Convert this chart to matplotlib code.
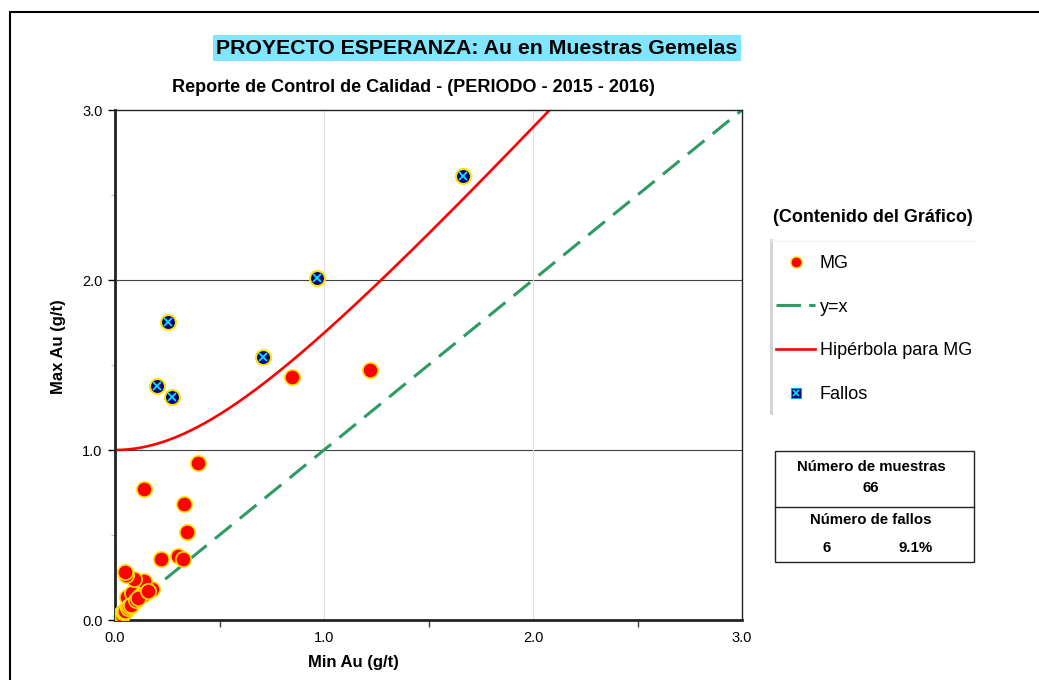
import numpy as np
import matplotlib.pyplot as plt
from matplotlib.lines import Line2D
from matplotlib.patches import Rectangle

plt.rcParams['font.family'] = ['Liberation Sans', 'DejaVu Sans']

# twin samples: min and max Au (g/t)
min_au = [0.005, 0.005, 0.010, 0.008, 0.010, 0.012, 0.015, 0.020, 0.025, 0.029,
          0.030, 0.035, 0.040, 0.045, 0.051, 0.055, 0.060, 0.070, 0.088, 0.056,
          0.083, 0.124, 0.140, 0.175, 0.140, 0.092, 0.051, 0.048, 0.220, 0.300,
          0.327, 0.346, 0.332, 0.140, 0.399, 0.848, 1.220,
          1.665, 0.967, 0.252, 0.202, 0.271, 0.710,
          0.002, 0.003, 0.004, 0.006, 0.007, 0.009, 0.011, 0.013, 0.016, 0.018,
          0.020, 0.022, 0.027, 0.033, 0.038, 0.042, 0.048, 0.060, 0.065, 0.075,
          0.100, 0.110, 0.160]
max_au = [0.005, 0.010, 0.005, 0.004, 0.010, 0.015, 0.020, 0.025, 0.030, 0.029,
          0.035, 0.040, 0.039, 0.050, 0.059, 0.065, 0.075, 0.085, 0.102, 0.134,
          0.161, 0.147, 0.151, 0.180, 0.231, 0.239, 0.265, 0.284, 0.359, 0.378,
          0.357, 0.516, 0.681, 0.769, 0.922, 1.429, 1.470,
          2.610, 2.010, 1.751, 1.378, 1.310, 1.549,
          0.003, 0.002, 0.006, 0.004, 0.008, 0.007, 0.009, 0.012, 0.014, 0.020,
          0.018, 0.024, 0.032, 0.028, 0.045, 0.048, 0.055, 0.070, 0.080, 0.090,
          0.120, 0.130, 0.170]

hyp_b = 1.0     # hyperbola intercept
hyp_m2 = 1.85   # hyperbola slope^2

x = np.array(min_au)
y = np.array(max_au)
fail = y > np.sqrt(hyp_b**2 + hyp_m2 * x**2)
n_total = len(x)
n_fail = int(fail.sum())

fig = plt.figure(figsize=(10.39, 6.8), dpi=100)
ax = fig.add_axes([115/1039, 1-620/680, 627/1039, 510/680])

# grid
for g in [1.0, 2.0]:
    ax.axhline(g, color='#404040', lw=0.8, zorder=0)
    ax.axvline(g, color='#e0e0e0', lw=0.8, zorder=0)

# y=x and hyperbola
xl = np.array([0.24, 3.0])
ax.plot(xl, xl, color='#2e9a64', lw=2.2, dashes=(7, 3.5), zorder=2)
xh = np.linspace(0, 3, 400)
yh = np.sqrt(hyp_b**2 + hyp_m2 * xh**2)
ax.plot(xh, yh, color='#ff0000', lw=1.9, zorder=2)

ax.plot(x, y, 'o', ms=11, mfc='#ff0000', mec='#ffe000', mew=1.2, zorder=3, ls='none')
ax.plot(x[fail], y[fail], 'o', ms=10.5, mfc='#000070', mec='#ffe000', mew=1.2, zorder=4, ls='none')
ax.plot(x[fail], y[fail], 'x', ms=6, mec='#00e5ff', mew=1.3, zorder=5, ls='none')

ax.set_xlim(0, 3)
ax.set_ylim(0, 3)
ax.set_xticks([0, 1, 2, 3])
ax.set_xticks([0.5, 1.5, 2.5], minor=True)
ax.set_yticks([0, 1, 2, 3])
ax.set_yticks([0.5, 1.5, 2.5], minor=True)
ax.set_xticklabels(['0.0', '1.0', '2.0', '3.0'])
ax.set_yticklabels(['0.0', '1.0', '2.0', '3.0'])
ax.tick_params(axis='x', which='major', length=0, labelsize=10.5, pad=8)
ax.tick_params(axis='x', which='minor', length=5, width=1, color='#404040')
ax.tick_params(axis='y', which='major', length=5, width=1, labelsize=10.5, pad=4)
ax.tick_params(axis='y', which='minor', length=3, width=0.8, color='#c0c0c0')
for s in ['left', 'bottom']:
    ax.spines[s].set_linewidth(2)
    ax.spines[s].set_color('#222222')
for s in ['top', 'right']:
    ax.spines[s].set_linewidth(1)
    ax.spines[s].set_color('#222222')

fig.text(353/1039, 1-662/680, 'Min Au (g/t)', ha='center', va='center', fontsize=12, fontweight='bold')
fig.text(58/1039, 1-347/680, 'Max Au (g/t)', ha='center', va='center', fontsize=12,
         fontweight='bold', rotation=90)

fig.text(477/1039, 1-48/680, 'PROYECTO ESPERANZA: Au en Muestras Gemelas', ha='center', va='center',
         fontsize=15.3, fontweight='bold',
         bbox=dict(boxstyle='square,pad=0.18', fc='#80e6ff', ec='none'))
fig.text(413/1039, 1-87/680, 'Reporte de Control de Calidad - (PERIODO - 2015 - 2016)',
         ha='center', va='center', fontsize=13, fontweight='bold')

# legend
fig.text(873/1039, 1-218/680, '(Contenido del Gráfico)', ha='center', va='center',
         fontsize=13, fontweight='bold')
fig.add_artist(Line2D([771/1039, 771/1039], [1-240/680, 1-413/680], color='#d0d0d0', lw=2))
fig.add_artist(Line2D([771/1039, 975/1039], [1-241/680, 1-241/680], color='#f0f0f0', lw=1))
h_mg = Line2D([], [], marker='o', ls='none', ms=8, mfc='#ff0000', mec='#ffe000', mew=1)
h_yx = Line2D([], [], color='#2e9a64', lw=2.2, dashes=(8, 2.7))
h_hy = Line2D([], [], color='#ff0000', lw=1.9)
h_fa = (Line2D([], [], marker='s', ls='none', ms=7.5, mfc='#000070', mec='#00a0ff', mew=0.8),
        Line2D([], [], marker='x', ls='none', ms=5, mec='#00e5ff', mew=1.2))
ax.legend([h_mg, h_yx, h_hy, h_fa], ['MG', 'y=x', 'Hipérbola para MG', 'Fallos'],
          loc='upper left', bbox_to_anchor=(776/1039, 1-255/680), bbox_transform=fig.transFigure,
          frameon=False, fontsize=13, handlelength=2.17, handletextpad=0.25, labelspacing=1.48,
          borderaxespad=0, borderpad=0)

# stats box
bx0, bx1 = 775/1039, 974/1039
by0, by1 = 1-562/680, 1-451/680
fig.add_artist(Rectangle((bx0, by0), bx1-bx0, by1-by0, transform=fig.transFigure,
                         fill=False, ec='#222222', lw=1))
fig.add_artist(Line2D([bx0, bx1], [1-507/680, 1-507/680], color='#222222', lw=1))
fig.text(871/1039, 1-467/680, 'Número de muestras', ha='center', va='center', fontsize=10.8, fontweight='bold')
fig.text(871/1039, 1-488/680, str(n_total), ha='center', va='center', fontsize=10.8, fontweight='bold')
fig.text(871/1039, 1-520/680, 'Número de fallos', ha='center', va='center', fontsize=10.8, fontweight='bold')
fig.text(827/1039, 1-548/680, str(n_fail), ha='center', va='center', fontsize=10.8, fontweight='bold')
fig.text(916/1039, 1-548/680, '%.1f%%' % (100.0 * n_fail / n_total), ha='center', va='center',
         fontsize=10.8, fontweight='bold')

# outer frame
fig.add_artist(Rectangle((10/1039, -0.05), 1.1, 1-12/680+0.05, transform=fig.transFigure,
                         fill=False, ec='black', lw=1.5))

fig.savefig('out.png', dpi=100)
